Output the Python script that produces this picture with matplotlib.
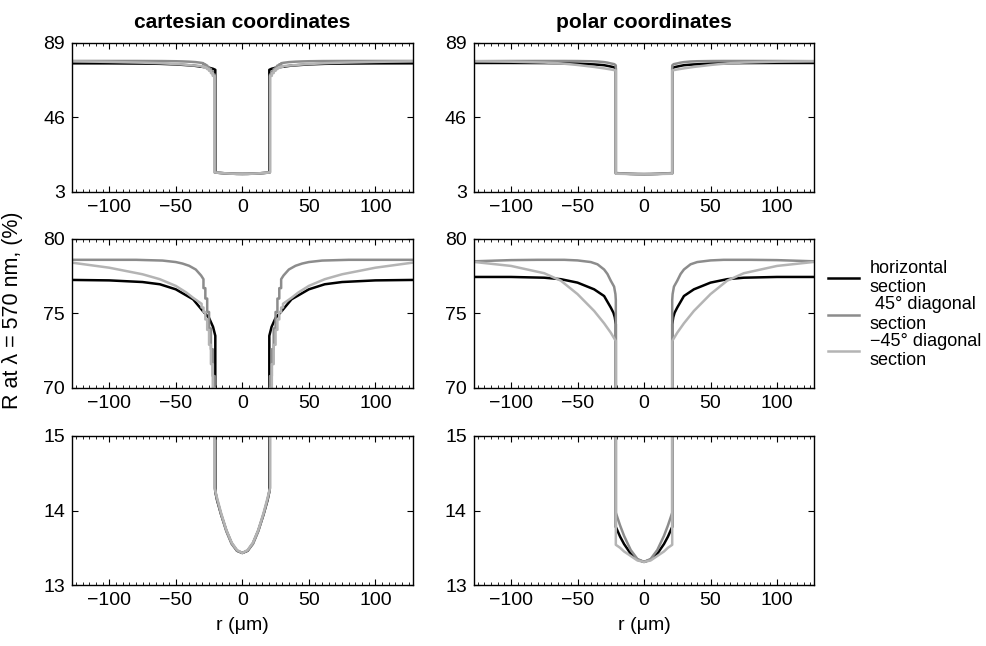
import numpy as np
import matplotlib
matplotlib.use('Agg')
from matplotlib import pyplot as plt
from matplotlib.ticker import MultipleLocator

plt.rcParams['font.family'] = ['Liberation Sans', 'DejaVu Sans']
plt.rcParams['font.size'] = 14

# right half (r >= 0) of each section; curves are symmetric in r
# cartesian coordinates
cart_h_r = [0, 4, 8, 12, 16, 19, 20.3, 20.3, 22, 25, 30, 37, 50, 62, 75, 100, 128]
cart_h_R = [13.43, 13.46, 13.56, 13.73, 13.95, 14.14, 14.25, 73.5, 74.1, 74.7, 75.2, 75.95, 76.62, 76.96, 77.11, 77.22, 77.25]

cart_d45_r = [0, 4, 8, 12, 16, 19, 20.8, 20.8, 22.2, 22.2, 23.6, 23.6, 25.0, 25.0, 26.4, 26.4, 27.8, 27.8,
              29.2, 29.2, 31, 35, 40, 45, 50, 60, 80, 128]
cart_d45_R = [13.43, 13.46, 13.55, 13.72, 13.95, 14.15, 14.3, 70.8, 70.8, 72.6, 72.6, 74.0, 74.0, 75.1, 75.1, 76.0, 76.0, 76.7,
              76.7, 77.3, 77.55, 77.95, 78.2, 78.35, 78.45, 78.55, 78.6, 78.6]

cart_m45_r = [0, 4, 8, 12, 16, 19, 20.8, 20.8, 22.2, 22.2, 23.6, 23.6, 25.0, 25.0, 26.4, 26.4, 27.8, 27.8,
              29.2, 29.2, 30.6, 30.6, 33, 37, 42, 50, 62, 75, 100, 128]
cart_m45_R = [13.43, 13.47, 13.57, 13.74, 13.97, 14.17, 14.3, 70.0, 70.0, 71.6, 71.6, 72.9, 72.9, 73.9, 73.9, 74.6, 74.6, 75.1,
              75.1, 75.4, 75.4, 75.65, 75.8, 76.05, 76.4, 76.85, 77.3, 77.63, 78.07, 78.41]

# polar coordinates
pol_h_r = [0, 5, 10, 15, 18, 21.2, 21.2, 22, 23, 25, 30, 37.5, 50, 62.5, 75, 100, 128]
pol_h_R = [13.31, 13.34, 13.42, 13.55, 13.65, 13.78, 74.27, 74.75, 75.05, 75.4, 76.17, 76.62, 77.07, 77.3, 77.4, 77.45, 77.45]

pol_d45_r = [0, 5, 10, 15, 18, 21.2, 21.2, 21.5, 22.5, 25, 27.5, 30, 35, 40, 50, 60, 80, 100, 128]
pol_d45_R = [13.31, 13.35, 13.47, 13.66, 13.80, 13.97, 75.9, 76.3, 76.8, 77.2, 77.65, 77.95, 78.3, 78.45, 78.56, 78.6, 78.6, 78.58, 78.5]

pol_m45_r = [0, 5, 10, 15, 18, 21.2, 21.2, 25, 30, 37.5, 50, 62.5, 75, 100, 128]
pol_m45_R = [13.31, 13.33, 13.39, 13.45, 13.50, 13.54, 73.15, 73.71, 74.34, 75.17, 76.3, 77.2, 77.7, 78.19, 78.46]

labels = ['horizontal\nsection', ' 45° diagonal\nsection', '−45° diagonal\nsection']
colours = ['#000000', '#8c8c8c', '#b4b4b4']
row_limits = [(3, 89), (70, 80), (13, 15)]
row_ticks = [[3, 46, 89], [70, 75, 80], [13, 14, 15]]
titles = ['cartesian coordinates', 'polar coordinates']


def both_sides(r, v):
    r = np.asarray(r, dtype=float)
    v = np.asarray(v, dtype=float)
    return np.concatenate([-r[::-1], r]), np.concatenate([v[::-1], v])


columns = [
    [(cart_h_r, cart_h_R), (cart_d45_r, cart_d45_R), (cart_m45_r, cart_m45_R)],
    [(pol_h_r, pol_h_R), (pol_d45_r, pol_d45_R), (pol_m45_r, pol_m45_R)],
]

fig = plt.figure(figsize=(9.87, 6.46), dpi=100)
lefts = [0.073, 0.480]
bottoms = [0.7028, 0.3994, 0.0944]
w, h = 0.345, 0.2307

axes = {}
for c, series in enumerate(columns):
    for row in range(3):
        ax = fig.add_axes([lefts[c], bottoms[row], w, h])
        axes[(row, c)] = ax
        for (r, v), col, lab in zip(series, colours, labels):
            x, y = both_sides(r, v)
            ax.plot(x, y, color=col, lw=1.8, label=lab)
        ax.set_xlim(-128, 128)
        ax.set_ylim(*row_limits[row])
        ax.set_yticks(row_ticks[row])
        ax.set_xticks([-100, -50, 0, 50, 100])
        ax.xaxis.set_minor_locator(MultipleLocator(5))
        ax.tick_params(which='both', direction='in', top=True, right=True, labelsize=14)
        ax.tick_params(which='major', length=4, width=0.8)
        ax.tick_params(which='minor', length=2, width=0.6)
        ax.tick_params(axis='x', pad=5)
        ax.tick_params(axis='y', pad=5)
        for s in ax.spines.values():
            s.set_linewidth(1.0)
        if row == 0:
            ax.set_title(titles[c], fontsize=15, fontweight='bold', pad=11)
        if row == 2:
            ax.set_xlabel('r (μm)', fontsize=14, labelpad=6)

axes[(1, 1)].legend(loc='upper left', bbox_to_anchor=(1.02, 0.91), frameon=False,
                    handlelength=1.7, handletextpad=0.6, labelspacing=0.0,
                    borderaxespad=0, fontsize=13)

fig.text(13 / 987, 1 - 310 / 646, 'R at λ = 570 nm, (%)', rotation=90, va='center', ha='center', fontsize=15.5)

fig.savefig('out.png', dpi=100)
